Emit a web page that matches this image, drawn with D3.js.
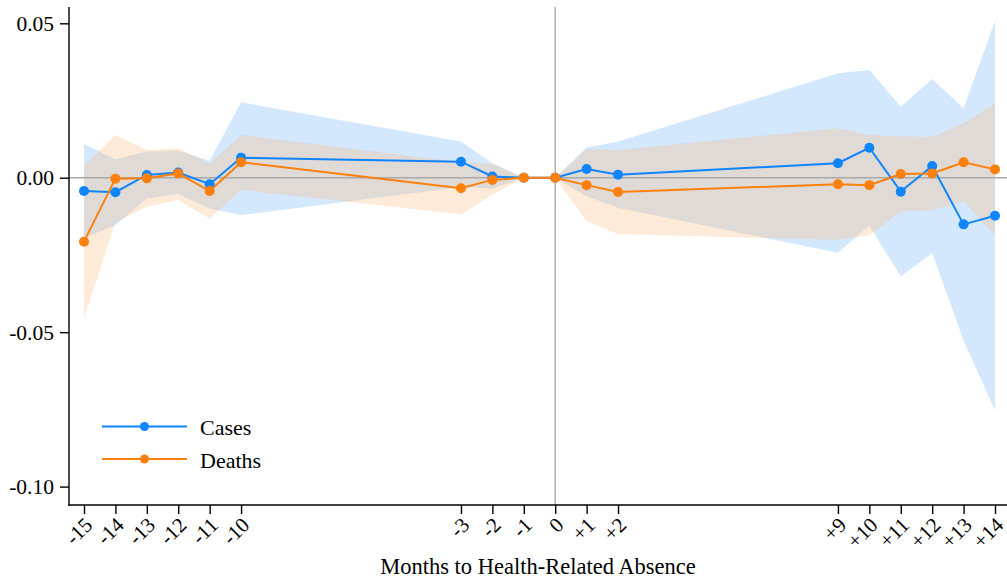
<!DOCTYPE html>
<html><head><meta charset="utf-8">
<script src="https://cdn.jsdelivr.net/npm/d3@7"></script>
<style>
html,body{margin:0;padding:0;background:#fff;}
svg{display:block;font-family:"Liberation Serif","Times New Roman",serif;}
</style></head>
<body><svg id="chart" width="1007" height="578"></svg>
<script>
const months = [-15,-14,-13,-12,-11,-10,-3,-2,-1,0,1,2,9,10,11,12,13,14];
const tickLabels = ["-15","-14","-13","-12","-11","-10","-3","-2","-1","0","+1","+2","+9","+10","+11","+12","+13","+14"];
const yTicks = [0.05, 0, -0.05, -0.10];
const yTickLabels = ["0.05","0.00","-0.05","-0.10"];

const casesEst = [-0.0043,-0.0047,0.0009,0.0017,-0.0021,0.0065,0.0052,0.0004,0,0,0.0028,0.0010,0.0047,0.0097,-0.0045,0.0038,-0.0151,-0.0123];
const casesLo  = [-0.0195,-0.0154,-0.0067,-0.0053,-0.0100,-0.0121,-0.0030,-0.0035,0,0,-0.0060,-0.0097,-0.0243,-0.0155,-0.0320,-0.0244,-0.0527,-0.0754];
const casesHi  = [0.0109,0.0060,0.0085,0.0087,0.0055,0.0244,0.0117,0.0047,0,0,0.0098,0.0117,0.0338,0.0349,0.0230,0.0320,0.0225,0.0508];

const deathsEst = [-0.0207,-0.0003,-0.0002,0.0014,-0.0043,0.0050,-0.0034,-0.0007,0,0,-0.0024,-0.0046,-0.0021,-0.0024,0.0012,0.0014,0.0050,0.0027];
const deathsLo  = [-0.0454,-0.0144,-0.0094,-0.0072,-0.0132,-0.0040,-0.0118,-0.0055,0,0,-0.0140,-0.0182,-0.0202,-0.0186,-0.0110,-0.0105,-0.0076,-0.0187];
const deathsHi  = [0.0040,0.0138,0.0090,0.0095,0.0046,0.0138,0.0050,0.0045,0,0,0.0092,0.0090,0.0160,0.0138,0.0134,0.0133,0.0176,0.0241];

const seriesNames = ["Cases","Deaths"];
const lineColors = ["#0f84fb","#fd7f0c"];
const serif = "Liberation Serif, Times New Roman, serif";

const svg = d3.select("#chart");
const axisX0 = 69, axisRight = 1007, plotTop = 7, axisY = 505;
const x = d3.scaleLinear().domain([-15,14]).range([84,995]);
const y = d3.scaleLinear().domain([-0.10,0.05]).range([486.6,23.3]);

function rows(est, lo, hi){ return months.map((m,i)=>({m, e:est[i], lo:lo[i], hi:hi[i]})); }
const cases = rows(casesEst, casesLo, casesHi);
const deaths = rows(deathsEst, deathsLo, deathsHi);

const area = d3.area().x(d=>x(d.m)).y0(d=>y(d.lo)).y1(d=>y(d.hi));
svg.append("path").datum(cases).attr("d",area).attr("fill","rgb(212,232,253)");
svg.append("path").datum(deaths).attr("d",area).attr("fill","rgb(250,184,125)").attr("fill-opacity",0.3);

// reference lines
svg.append("line").attr("x1",axisX0).attr("x2",axisRight).attr("y1",y(0)).attr("y2",y(0))
  .attr("stroke","#a9a9a9").attr("stroke-width",1.4);
svg.append("line").attr("x1",x(0)).attr("x2",x(0)).attr("y1",plotTop).attr("y2",axisY)
  .attr("stroke","#a9a9a9").attr("stroke-width",1.4);

const line = d3.line().x(d=>x(d.m)).y(d=>y(d.e));
[cases, deaths].forEach((data,k)=>{
  svg.append("path").datum(data).attr("d",line).attr("fill","none")
    .attr("stroke",lineColors[k]).attr("stroke-width",2);
  svg.append("g").selectAll("circle").data(data).join("circle")
    .attr("cx",d=>x(d.m)).attr("cy",d=>y(d.e)).attr("r",5).attr("fill",lineColors[k]);
});

// Y axis
const yAxis = d3.axisLeft(y).tickValues(yTicks).tickFormat((d,i)=>yTickLabels[i]).tickSize(9).tickPadding(6);
const gy = svg.append("g").attr("transform",`translate(${axisX0},0)`).call(yAxis);
gy.select(".domain").remove();
gy.selectAll(".tick line").attr("stroke","#000").attr("stroke-width",1.4);
gy.selectAll("text").attr("font-size",21.5).attr("fill","#000").attr("font-family",serif);
svg.append("line").attr("x1",axisX0).attr("x2",axisX0).attr("y1",plotTop).attr("y2",axisY+0.7)
  .attr("stroke","#000").attr("stroke-width",1.4);

// X axis
const xAxis = d3.axisBottom(x).tickValues(months).tickFormat((d,i)=>tickLabels[i]).tickSize(9).tickPadding(3);
const gx = svg.append("g").attr("transform",`translate(0,${axisY})`).call(xAxis);
gx.select(".domain").remove();
gx.selectAll(".tick line").attr("stroke","#000").attr("stroke-width",1.4);
gx.selectAll("text").attr("font-size",21).attr("fill","#000")
  .attr("font-family",serif)
  .attr("text-anchor","end").attr("dy","0.35em")
  .attr("transform","translate(4,16) rotate(-45)").attr("y",0).attr("x",0);
svg.append("line").attr("x1",axisX0-0.7).attr("x2",axisRight).attr("y1",axisY).attr("y2",axisY)
  .attr("stroke","#000").attr("stroke-width",1.4);

svg.append("text").attr("x",538).attr("y",574).attr("text-anchor","middle")
  .attr("font-size",22.5).attr("fill","#000").attr("font-family",serif).text("Months to Health-Related Absence");

// Legend
const lg = svg.append("g");
seriesNames.forEach((name,k)=>{
  const ly = 426.5 + k*32.5;
  lg.append("line").attr("x1",102).attr("x2",187).attr("y1",ly).attr("y2",ly)
    .attr("stroke",lineColors[k]).attr("stroke-width",2);
  lg.append("circle").attr("cx",144.5).attr("cy",ly).attr("r",4.5).attr("fill",lineColors[k]);
  lg.append("text").attr("x",200).attr("y",ly+8.5).attr("font-size",22).attr("fill","#000").attr("font-family",serif).text(name);
});
</script></body></html>
